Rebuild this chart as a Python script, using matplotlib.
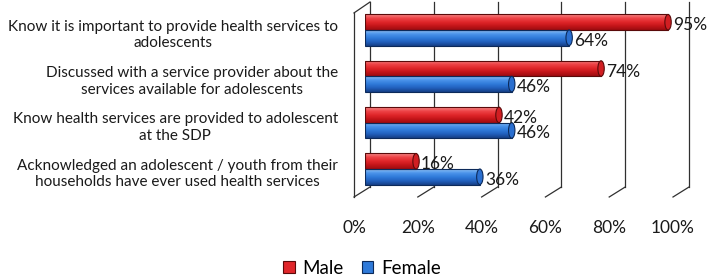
import numpy as np
import matplotlib
matplotlib.use("Agg")
import matplotlib.pyplot as plt
from matplotlib.transforms import blended_transform_factory, ScaledTranslation
from matplotlib.colors import LinearSegmentedColormap
from matplotlib.patches import Ellipse, Patch

plt.rcParams['font.family'] = ['Lato', 'DejaVu Sans']

categories = [
    "Know it is important to provide health services to\nadolescents",
    "Discussed with a service provider about the\nservices available for adolescents",
    "Know health services are provided to adolescent\nat the SDP",
    "Acknowledged an adolescent / youth from their\nhouseholds have ever used health services",
]
male = [95, 74, 42, 16]
female = [64, 46, 46, 36]
series_names = ["Male", "Female"]
xticks = [0, 20, 40, 60, 80, 100]
xtick_labels = ["0%", "20%", "40%", "60%", "80%", "100%"]

W, H, DPI = 708, 277, 100
fig = plt.figure(figsize=(W / DPI, H / DPI), dpi=DPI)
ax = fig.add_axes([365 / W, (H - 197) / H, 319 / W, 195 / H])
ax.set_xlim(0, 100)
ax.set_ylim(3.604, -0.604)
ax.axis('off')

px = 100 / 319.0          # data units per pixel along x
front_dx = -11 * px       # front plane offset
back_dx = 5 * px          # back wall offset
back_floor = 10 / 195.0   # back floor height in axes fraction

tb = blended_transform_factory(ax.transData, ax.transAxes)
line_kw = dict(color='#303030', lw=0.9, transform=tb, clip_on=False, zorder=1)

# back wall gridlines + floor slashes
for v in xticks:
    ax.plot([v + back_dx, v + back_dx], [back_floor, 1.0], **line_kw)
    ax.plot([v + front_dx, v + back_dx], [0, back_floor], **line_kw)
# left wall
ax.plot([front_dx, front_dx], [0, 0.944], **line_kw)
ax.plot([front_dx, back_dx], [0.944, 1.0], **line_kw)

red_cmap = LinearSegmentedColormap.from_list(
    'r', ['#f58a8a', '#ee4447', '#e0262a', '#c41519', '#9c0c10'])
blue_cmap = LinearSegmentedColormap.from_list(
    'b', ['#8cc0f5', '#4a93ea', '#2f7ad9', '#2160bd', '#163f86'])
grad = np.linspace(0, 1, 64).reshape(-1, 1)

bh = 0.335
y = np.arange(len(categories))
for vals, off, cmap, edge, capc in [
        (male, -bh / 2, red_cmap, '#5a0a0a', '#d11e22'),
        (female, bh / 2, blue_cmap, '#0c2a5a', '#2a6fd0')]:
    bars = ax.barh(y + off, vals, height=bh, color='none', edgecolor=edge,
                   lw=0.8, zorder=3)
    for b, v in zip(bars, vals):
        x0, y0 = b.get_x(), b.get_y()
        w, h = b.get_width(), b.get_height()
        im = ax.imshow(grad, extent=[x0, x0 + w, y0 + h, y0], aspect='auto',
                       cmap=cmap, zorder=2, interpolation='bilinear')
        im.set_clip_path(b)
        cap = Ellipse((x0 + w, y0 + h / 2), 2.0, h, facecolor=capc,
                      edgecolor=edge, lw=0.8, zorder=4)
        ax.add_patch(cap)
        ax.text(x0 + w + 5 * px, y0 + h / 2, f"{v}%", ha='left', va='center',
                fontsize=12.5, color='#1a1a1a', zorder=5,
                transform=ax.transData + ScaledTranslation(0, -3 / DPI, fig.dpi_scale_trans))

ax.set_xlim(0, 100)
ax.set_ylim(3.604, -0.604)

# category labels
lab_tr = ax.transData + ScaledTranslation(0, -5 / DPI, fig.dpi_scale_trans)
for i, c in enumerate(categories):
    ax.text(-27 * px, i, c, ha='right', va='center', multialignment='center',
            fontsize=11, color='#1a1a1a', transform=lab_tr, clip_on=False,
            linespacing=1.25)

# tick labels
tick_tr = tb + ScaledTranslation(0, -31 / DPI, fig.dpi_scale_trans)
for v, t in zip(xticks, xtick_labels):
    ax.text(v + front_dx, 0, t, ha='center', va='center', fontsize=12.5,
            color='#1a1a1a', transform=tick_tr, clip_on=False)

handles = [Patch(facecolor='#e0262a', edgecolor='#5a0a0a', lw=0.8),
           Patch(facecolor='#2f7ad9', edgecolor='#0c2a5a', lw=0.8)]
fig.legend(handles, series_names, loc='center', bbox_to_anchor=(362 / W, 9 / H),
           ncol=2, frameon=False, fontsize=13.5, handlelength=0.6,
           handleheight=0.6, handletextpad=0.4, columnspacing=1.0)

fig.savefig('out.png', dpi=DPI)
